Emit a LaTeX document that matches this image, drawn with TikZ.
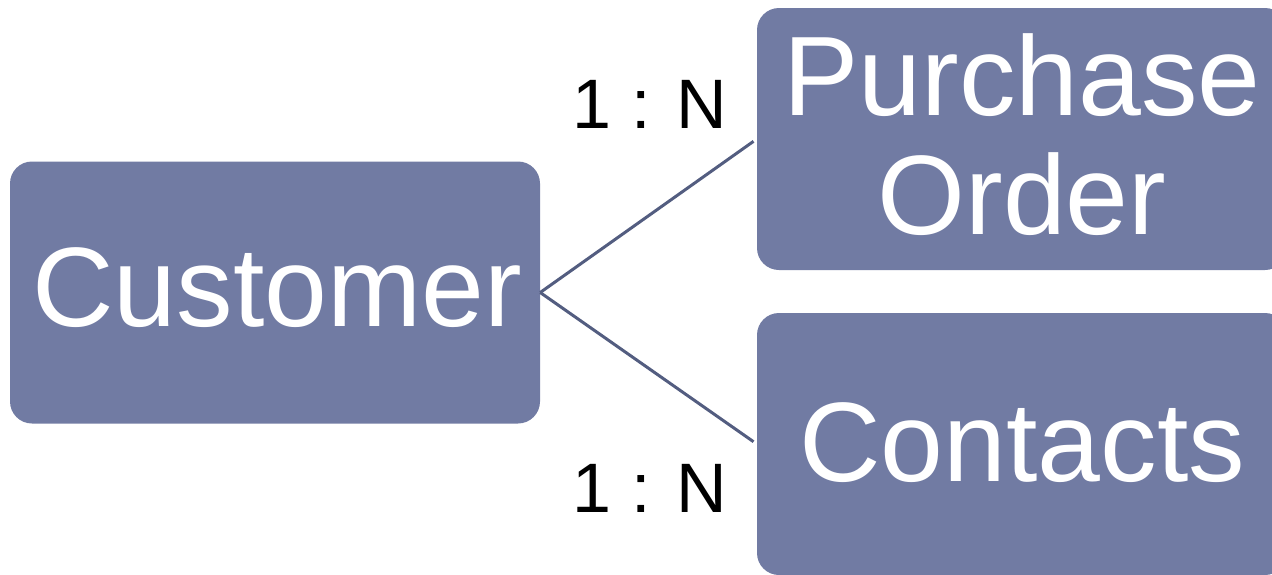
\documentclass[tikz,border=0pt]{standalone}
\usepackage{fontspec}
\setmainfont{Liberation Sans}
\definecolor{boxfill}{HTML}{717BA3}
\definecolor{linkcol}{HTML}{535D80}
\begin{document}
\begin{tikzpicture}[x=1pt,y=-1pt,
  entity/.style={rounded corners=22pt, fill=boxfill, minimum width=530pt, minimum height=262pt, inner sep=0pt},
  etext/.style={text=white, anchor=base, inner sep=0pt, font=\fontsize{113}{118}\selectfont},
  link/.style={draw=linkcol, line width=3pt, shorten >=4pt},
  card/.style={font=\fontsize{70}{70}\selectfont, text=black, anchor=base, inner sep=0pt}]
\useasboundingbox (0,0) rectangle (1272,574);
\clip (0,0) rectangle (1272,574);
\node[entity] (cust) at (275,292.5) {};
\node[entity] (po) at (1022,139) {};
\node[entity] (cont) at (1022,444) {};
\node[etext] (custt) at (277,326) {Customer};
\node[etext] (pot1) at (1022,115) {Purchase};
\node[etext] (pot2) at (1022,234) {Order};
\node[etext] (contt) at (1022,481) {Contacts};
\draw[link] (cust.east) -- (po.west);
\draw[link] (cust.east) -- (cont.west);
\node[card] (l1) at (650,128) {1 : N};
\node[card] (l2) at (650,512) {1 : N};
\end{tikzpicture}
\end{document}
